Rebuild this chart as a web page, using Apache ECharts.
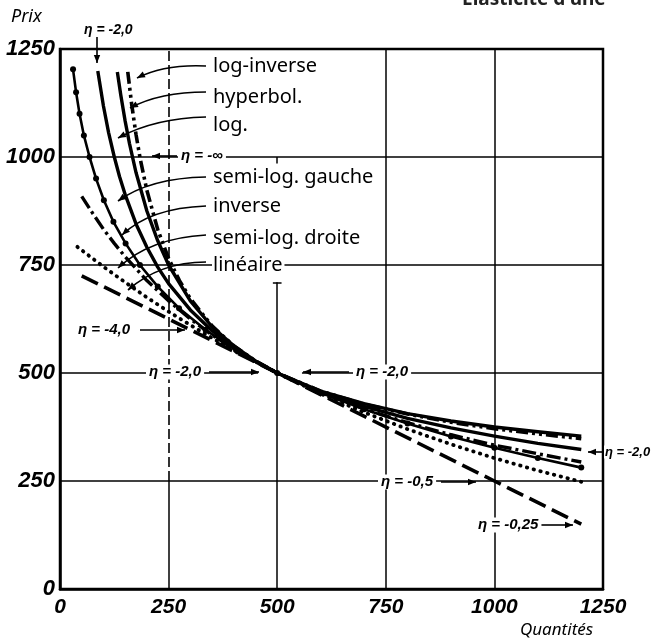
<!DOCTYPE html>
<html><head><meta charset="utf-8">
<script src="https://cdn.jsdelivr.net/npm/echarts@6/dist/echarts.min.js"></script>
<style>html,body{margin:0;padding:0;background:#fff}#c{width:651px;height:644px}</style>
</head><body><div id="c"></div>
<script>
// ---- data ----
const xTicks = [0, 250, 500, 750, 1000, 1250];
const yTicks = [0, 250, 500, 750, 1000, 1250];
const lineaire = [[50,725],[300,600],[500,500],[1000,250],[1200,150]];
const logarithmique = [[87,1199],[100,1118],[112,1056],[125,1000],[137,955],[150,913],[175,845],[200,791],[225,745],[250,707],[300,646],[350,598],[400,559],[450,527],[500,500],[600,456],[700,423],[800,395],[900,373],[1000,354],[1100,337],[1200,323]];
const hyperbolique = [[132,1197],[140,1143],[150,1083],[160,1031],[175,964],[200,875],[225,806],[250,750],[300,667],[350,607],[400,563],[450,528],[500,500],[600,458],[700,429],[800,406],[900,389],[1000,375],[1100,364],[1200,354]];
const logInverse = [[156,1197],[165,1122],[175,1052],[185,994],[200,923],[225,832],[250,765],[275,714],[300,672],[350,609],[400,563],[450,528],[500,500],[600,458],[700,428],[800,405],[900,386],[1000,371],[1100,359],[1200,348]];
const semiLogGauche = [[30,1203],[37,1150],[45,1100],[55,1050],[68,1000],[83,950],[101,900],[123,850],[151,800],[184,750],[225,700],[274,650],[335,600],[409,550],[500,500],[600,454],[700,416],[800,383],[900,353],[1000,327],[1100,303],[1200,281]];
const semiLogDroite = [[40,792],[100,746],[150,710],[200,675],[250,642],[300,611],[350,581],[400,553],[450,526],[500,500],[600,452],[700,409],[800,370],[900,335],[1000,303],[1100,274],[1200,248]];
const inverse = [[50,909],[75,870],[100,833],[125,800],[150,769],[200,714],[250,667],[300,625],[350,588],[400,556],[450,526],[500,500],[600,455],[700,417],[800,385],[900,357],[1000,333],[1100,313],[1200,294]];
const curveNames = ['log-inverse','hyperbol.','log.','semi-log. gauche','inverse','semi-log. droite','linéaire'];

const chart = echarts.init(document.getElementById('c'), null, {renderer:'canvas'});
const tickFont = {fontFamily:'Liberation Sans', fontWeight:'bold', fontStyle:'italic', color:'#000', formatter: v => String(v)};

function curve(name, data, ls, extra){
  return Object.assign({
    name, type:'line', data, z:3, showSymbol:false, symbol:'none',
    smooth:false, animation:false, silent:true,
    lineStyle:Object.assign({color:'#000', width:3.4, join:'round'}, ls)
  }, extra||{});
}

const H = (y, a, b, st) => [{coord:[a,y], lineStyle:st||{}}, {coord:[b,y]}];
const V = (x, a, b, st) => [{coord:[x,a], lineStyle:st||{}}, {coord:[x,b]}];

const gridSeries = {
  type:'line', data:[], z:1, silent:true, animation:false,
  markLine:{
    symbol:'none', silent:true, animation:false, label:{show:false},
    lineStyle:{color:'#000', width:1.5, type:'solid'},
    data:[
      H(yTicks[1], xTicks[0], xTicks[5]),
      H(yTicks[2], xTicks[0], 456),
      H(yTicks[2], 557, xTicks[5]),
      H(yTicks[3], xTicks[0], xTicks[5]),
      H(yTicks[4], xTicks[0], xTicks[5]),
      V(xTicks[1], yTicks[0], yTicks[1]),
      V(xTicks[1], yTicks[1], yTicks[5], {type:[10,4], width:1.6}),
      V(xTicks[2], yTicks[0], 710),
      H(710, 490, 510),
      V(xTicks[2], 1000, 985),
      V(xTicks[3], yTicks[0], yTicks[5]),
      V(xTicks[4], yTicks[0], yTicks[5])
    ]
  }
};

const option = {
  backgroundColor:'#fff',
  animation:false,
  grid:{left:60, right:48, top:49, bottom:55, show:true, borderColor:'#000', borderWidth:2.5},
  xAxis:{type:'value', min:0, max:1250, interval:250,
    axisLine:{show:true, lineStyle:{color:'#000', width:2.5}}, axisTick:{show:false},
    splitLine:{show:false},
    axisLabel:Object.assign({fontSize:21, margin:8}, tickFont)},
  yAxis:{type:'value', min:0, max:1250, interval:250,
    axisLine:{show:true, lineStyle:{color:'#000', width:2.5}}, axisTick:{show:false},
    splitLine:{show:false},
    axisLabel:Object.assign({fontSize:22, margin:5}, tickFont)},
  series:[
    gridSeries,
    curve(curveNames[6], lineaire, {type:[18,7], width:3.6}),
    curve(curveNames[5], semiLogDroite, {type:[0.5,6.5], width:3.8, cap:'round'}),
    curve(curveNames[4], inverse, {type:[14,4,3,4], width:3.4}),
    curve(curveNames[3], semiLogGauche, {width:2.6}, {showSymbol:true, symbol:'circle', symbolSize:6, showAllSymbol:true, itemStyle:{color:'#000'}}),
    curve(curveNames[2], logarithmique, {width:3.4}),
    curve(curveNames[1], hyperbolique, {width:3.4}),
    curve(curveNames[0], logInverse, {type:[12,4,3,4,3,4], width:3.6})
  ]
};
chart.setOption(option);

// ---- annotations (pixel layout) ----
function head(x,y,ang){
  const L=8, W=3.2;
  const bx=x-L*Math.cos(ang), by=y-L*Math.sin(ang);
  const px=-Math.sin(ang)*W, py=Math.cos(ang)*W;
  return {type:'polygon', z:100, silent:true, shape:{points:[[x,y],[bx+px,by+py],[bx-px,by-py]]}, style:{fill:'#000'}};
}
function carrow(x1,y1,cx,cy,x2,y2){
  return [{type:'bezierCurve', z:100, silent:true, shape:{x1,y1,x2,y2,cpx1:cx,cpy1:cy}, style:{stroke:'#000', lineWidth:1.7, fill:null}},
          head(x2,y2,Math.atan2(y2-cy,x2-cx))];
}
function sarrow(x1,y1,x2,y2){
  return [{type:'line', z:100, silent:true, shape:{x1,y1,x2,y2}, style:{stroke:'#000', lineWidth:1.6}},
          head(x2,y2,Math.atan2(y2-y1,x2-x1))];
}
function txt(s,x,y,o){
  return {type:'text', z:101, silent:true, x, y, style:Object.assign({text:s, fill:'#000', verticalAlign:'middle', align:'left'}, o)};
}
const lab = {fontFamily:'Noto Sans', fontSize:20, backgroundColor:'#fff', padding:[0,2,0,1]};
const eta = {fontFamily:'Liberation Sans', fontSize:15, fontWeight:'bold', fontStyle:'italic', backgroundColor:'#fff', padding:[0,3,0,3]};
let g = [];
g.push(txt(curveNames[0], 212, 66, lab));
g.push(txt(curveNames[1], 212, 97, lab));
g.push(txt(curveNames[2], 212, 125, lab));
g.push(txt(curveNames[3], 212, 177, lab));
g.push(txt(curveNames[4], 212, 206, lab));
g.push(txt(curveNames[5], 212, 238, lab));
g.push(txt(curveNames[6], 212, 265, lab));
g = g.concat(carrow(206,66,165,64,137,78));
g = g.concat(carrow(206,92,160,92,130,108));
g = g.concat(carrow(206,117,155,118,118,138));
g = g.concat(carrow(206,177,150,178,118,201));
g = g.concat(carrow(206,206,150,208,122,235));
g = g.concat(carrow(206,235,150,238,118,268));
g = g.concat(carrow(206,262,160,262,128,290));
// elasticity marks
g.push(txt('η = -2,0', 81, 30, Object.assign({}, eta, {fontSize:14, backgroundColor:null})));
g = g.concat(sarrow(97,37,97,63));
g.push(txt('η = -∞', 178, 156, eta));
g = g.concat(sarrow(177,156,152,156));
g.push(txt('η = -4,0', 75, 330, eta));
g = g.concat(sarrow(140,330,185,330));
g.push(txt('η = -2,0', 146, 372, eta));
g = g.concat(sarrow(209,372,259,372));
g.push(txt('η = -2,0', 353, 372, eta));
g = g.concat(sarrow(349,372,303,372));
g.push(txt('η = -2,0', 604, 452, Object.assign({}, eta, {fontSize:13, padding:[0,0,0,1]})));
g = g.concat(sarrow(604,452,588,452));
g.push(txt('η = -0,5', 378, 482, eta));
g = g.concat(sarrow(441,482,476,482));
g.push(txt('η = -0,25', 475, 525, eta));
g = g.concat(sarrow(541,525,573,525));
// axis names and header
g.push(txt('Prix', 11, 17, {fontFamily:'Noto Sans', fontSize:18, fontStyle:'italic'}));
g.push(txt('Quantités', 520, 630, {fontFamily:'Noto Sans', fontSize:17, fontStyle:'italic'}));
g.push({type:'text', z:101, silent:true, x:462, y:9, style:{text:"Élasticité d'une", fill:'#222', fontFamily:'Noto Sans', fontSize:19, fontWeight:'bold', verticalAlign:'bottom'}});
chart.setOption({graphic:g});
</script>
</body></html>
